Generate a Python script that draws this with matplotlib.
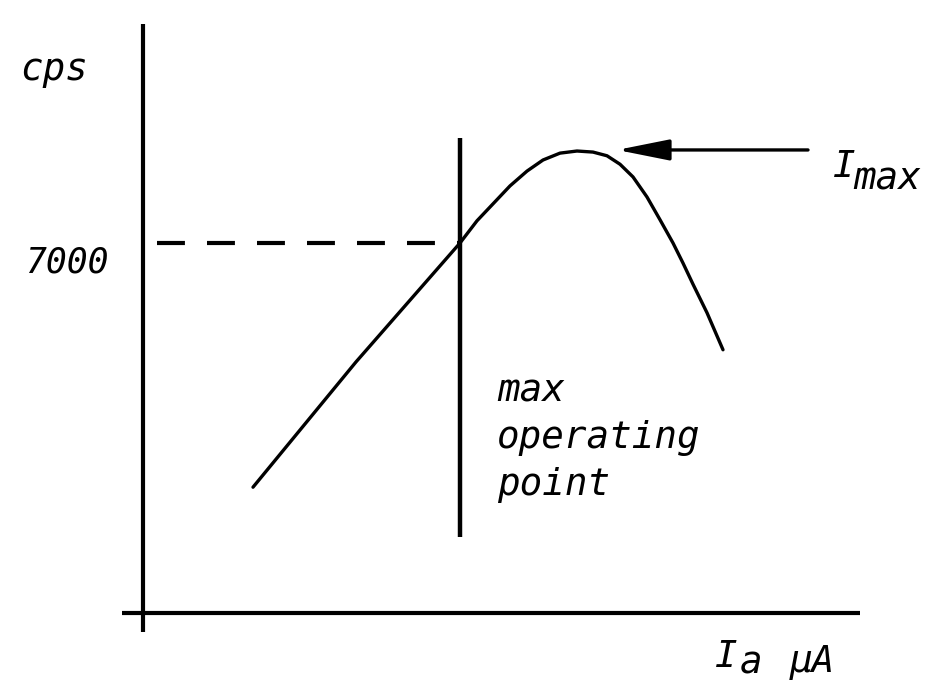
#!/usr/bin/env python3
"""
Counting-rate vs. anode current sketch: the plateau curve with its
maximum (I_max) and the chosen max operating point at 7000 cps.
"""

import matplotlib
matplotlib.use("Agg")
import matplotlib.pyplot as plt

# anode current (arbitrary uA units) and counting rate (cps)
current_ua = [11.0, 21.3, 31.7, 33.4, 35.0, 36.7, 38.4, 40.0, 41.7, 43.4,
              45.0, 46.4, 47.7, 49.0, 50.4, 51.7, 53.0, 54.0, 55.0, 56.4, 58.0]
rate_cps = [2380, 4750, 7000, 7420, 7740, 8080, 8360, 8570, 8700, 8740,
            8720, 8650, 8490, 8250, 7870, 7440, 7000, 6620, 6220, 5680, 4980]

op_current = 31.7      # max operating point
op_rate = 7000         # rate at the operating point
imax_current = 43.4    # current at the peak
op_labels = ["max", "operating", "point"]

INK = "black"
FONT = dict(family="DejaVu Sans Mono", style="italic", color=INK)


def main():
    fig = plt.figure(figsize=(9.27, 6.86), dpi=100)
    ax = fig.add_axes([0, 0, 1, 1])
    ax.set_xlim(-14.3, 78.4)
    ax.set_ylim(-1381, 11597)
    ax.axis("off")

    # hand-drawn style axes
    ax.plot([0, 0], [-360, 11140], color=INK, lw=3.0, solid_capstyle="butt")
    ax.plot([-2.1, 71.7], [0, 0], color=INK, lw=3.0, solid_capstyle="butt")

    # characteristic curve
    ax.plot(current_ua, rate_cps, color=INK, lw=2.4,
            solid_capstyle="round", solid_joinstyle="round")

    # operating point: dashed level line and vertical marker
    ax.plot([1.4, op_current], [op_rate, op_rate], color=INK, lw=3.0,
            dashes=(6.7, 5.3), dash_capstyle="butt")
    ax.plot([op_current, op_current], [1440, 8990], color=INK, lw=3.2,
            solid_capstyle="butt")

    # arrow pointing to the maximum
    peak = max(rate_cps)
    ax.annotate("", xy=(imax_current + 4.0, peak + 20), xytext=(66.5, peak + 20),
                arrowprops=dict(arrowstyle="-|>,head_length=1.6,head_width=0.32",
                                mutation_scale=20, color=INK, lw=2.4,
                                shrinkA=0, shrinkB=0))

    ax.text(69.0, 8249, "I", fontsize=27, va="baseline", ha="left", **FONT)
    ax.text(71.0, 8003, "max", fontsize=27, va="baseline", ha="left", **FONT)

    ax.text(-12.3, 10084, "cps", fontsize=27, va="baseline", ha="left", **FONT)
    ax.text(-11.8, 6451, f"{op_rate}", fontsize=25, va="baseline", ha="left", **FONT)

    for i, line in enumerate(op_labels):
        ax.text(35.4, 4000 - i * 880, line, fontsize=27, va="baseline",
                ha="left", **FONT)

    # x-axis label: I_a uA
    ax.text(57.2, -1022, "I", fontsize=27, va="baseline", ha="left", **FONT)
    ax.text(59.7, -1150, "a", fontsize=27, va="baseline", ha="left", **FONT)
    ax.text(64.7, -1116, "\u03bcA", fontsize=27, va="baseline", ha="left", **FONT)

    fig.savefig("out.png", dpi=100)
    plt.close(fig)


if __name__ == "__main__":
    main()
